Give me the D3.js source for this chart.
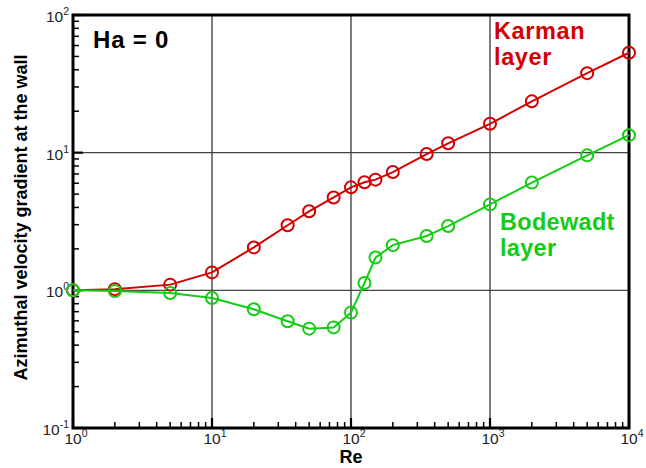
<!DOCTYPE html>
<html>
<head>
<meta charset="utf-8">
<script src="https://cdn.jsdelivr.net/npm/d3@7"></script>
<style>
  html, body { margin: 0; padding: 0; background: #fff; }
  svg { display: block; font-family: Arial, "Liberation Sans", sans-serif; }
</style>
</head>
<body>
<svg id="chart" width="646" height="468"></svg>
<script>
const reValues = [1, 2, 5, 10, 20, 35, 50, 75, 100, 125, 150, 200, 350, 500, 1000, 2000, 5000, 10000];
const karman = [1.0, 1.02, 1.1, 1.35, 2.05, 2.97, 3.75, 4.73, 5.6, 6.1, 6.37, 7.23, 9.77, 11.7, 16.2, 23.6, 37.8, 53.2];
const bodewadt = [1.0, 0.99, 0.956, 0.88, 0.728, 0.596, 0.527, 0.538, 0.689, 1.13, 1.73, 2.13, 2.48, 2.93, 4.21, 6.06, 9.56, 13.4];
const xMajorTicks = [1, 10, 100, 1000, 10000];
const xTickExponents = ["0", "1", "2", "3", "4"];
const yMajorTicks = [0.1, 1, 10, 100];
const yTickExponents = ["-1", "0", "1", "2"];
const seriesNames = ["Karman", "Bodewadt"];
const xTitle = "Re";
const yTitle = "Azimuthal velocity gradient at the wall";
const annotation = "Ha = 0";

const svg = d3.select("#chart");
const L = 73, R = 629, T = 15, B = 428;
const x = d3.scaleLog().domain([1, 1e4]).range([L, R]);
const y = d3.scaleLog().domain([0.1, 100]).range([B, T]);

const red = "#d40000", green = "#14cc14";

// minor ticks
const minorX = [], minorY = [];
for (let e = 0; e < 4; e++) for (let k = 2; k <= 9; k++) minorX.push(k * Math.pow(10, e));
for (let e = -1; e < 2; e++) for (let k = 2; k <= 9; k++) minorY.push(k * Math.pow(10, e));

// grid
const g = svg.append("g");
g.selectAll("line.vg").data(xMajorTicks.slice(1, -1)).join("line").attr("class", "vg")
  .attr("x1", d => x(d)).attr("x2", d => x(d)).attr("y1", T).attr("y2", B)
  .attr("stroke", "#111").attr("stroke-width", 1.1);
g.selectAll("line.hg").data(yMajorTicks.slice(1, -1)).join("line").attr("class", "hg")
  .attr("x1", L).attr("x2", R).attr("y1", d => y(d)).attr("y2", d => y(d))
  .attr("stroke", "#444").attr("stroke-width", 1.4);

// inside ticks
const tk = svg.append("g");
tk.selectAll("line.mx").data(minorX).join("line").attr("class", "mx")
  .attr("x1", d => x(d)).attr("x2", d => x(d)).attr("y1", B).attr("y2", B - 6)
  .attr("stroke", "#000").attr("stroke-width", 1.5);
tk.selectAll("line.Mx").data(xMajorTicks).join("line").attr("class", "Mx")
  .attr("x1", d => x(d)).attr("x2", d => x(d)).attr("y1", B).attr("y2", B - 10)
  .attr("stroke", "#000").attr("stroke-width", 2.2);
tk.selectAll("line.my").data(minorY).join("line").attr("class", "my")
  .attr("x1", L).attr("x2", L + 6).attr("y1", d => y(d)).attr("y2", d => y(d))
  .attr("stroke", "#000").attr("stroke-width", 1.5);
tk.selectAll("line.My").data(yMajorTicks).join("line").attr("class", "My")
  .attr("x1", L).attr("x2", L + 10).attr("y1", d => y(d)).attr("y2", d => y(d))
  .attr("stroke", "#000").attr("stroke-width", 2.2);

// tick labels with superscripts
const xl = svg.append("g").attr("font-size", 15.5).attr("fill", "#222");
xMajorTicks.forEach((v, i) => {
  const t = xl.append("text").attr("x", x(v) + 3).attr("y", B + 16).attr("text-anchor", "middle");
  t.append("tspan").text("10");
  t.append("tspan").attr("font-size", 10.5).attr("dy", -7).text(xTickExponents[i]);
});
const yl = svg.append("g").attr("font-size", 15.5).attr("fill", "#222");
yMajorTicks.forEach((v, i) => {
  const t = yl.append("text").attr("x", L - 4).attr("y", y(v) + 7).attr("text-anchor", "end");
  t.append("tspan").text("10");
  t.append("tspan").attr("font-size", 10.5).attr("dy", -7).text(yTickExponents[i]);
});

// frame
svg.append("rect").attr("x", L).attr("y", T).attr("width", R - L).attr("height", B - T)
  .attr("fill", "none").attr("stroke", "#000").attr("stroke-width", 3);

// data
const line = d3.line().x(d => x(d[0])).y(d => y(d[1]));
[[karman, red], [bodewadt, green]].forEach(([vals, col]) => {
  const pts = reValues.map((r, i) => [r, vals[i]]);
  svg.append("path").datum(pts).attr("d", line).attr("fill", "none")
    .attr("stroke", col).attr("stroke-width", 2);
  svg.append("g").selectAll("circle").data(pts).join("circle")
    .attr("cx", d => x(d[0])).attr("cy", d => y(d[1])).attr("r", 6)
    .attr("fill", "none").attr("stroke", col).attr("stroke-width", 2);
});

// annotations
svg.append("text").attr("x", 93).attr("y", 48).attr("font-size", 24).attr("font-weight", "bold")
  .attr("letter-spacing", 0.8).attr("fill", "#000").text(annotation);
const kt = svg.append("text").attr("x", 494).attr("y", 39).attr("font-size", 23.5)
  .attr("font-weight", "bold").attr("letter-spacing", 0.6).attr("fill", red);
kt.append("tspan").attr("x", 494).text(seriesNames[0]);
kt.append("tspan").attr("x", 494).attr("dy", 26).text("layer");
const bt = svg.append("text").attr("x", 500).attr("y", 230).attr("font-size", 23.5)
  .attr("font-weight", "bold").attr("letter-spacing", 0.3).attr("fill", green);
bt.append("tspan").attr("x", 500).text(seriesNames[1]);
bt.append("tspan").attr("x", 500).attr("dy", 26).text("layer");

// axis titles
svg.append("text").attr("x", (L + R) / 2).attr("y", 463).attr("text-anchor", "middle")
  .attr("font-size", 18).attr("font-weight", "bold").text(xTitle);
svg.append("text").attr("transform", `translate(27,${(T + B) / 2 - 4}) rotate(-90)`)
  .attr("text-anchor", "middle").attr("font-size", 18).attr("font-weight", "bold").text(yTitle);
</script>
</body>
</html>
